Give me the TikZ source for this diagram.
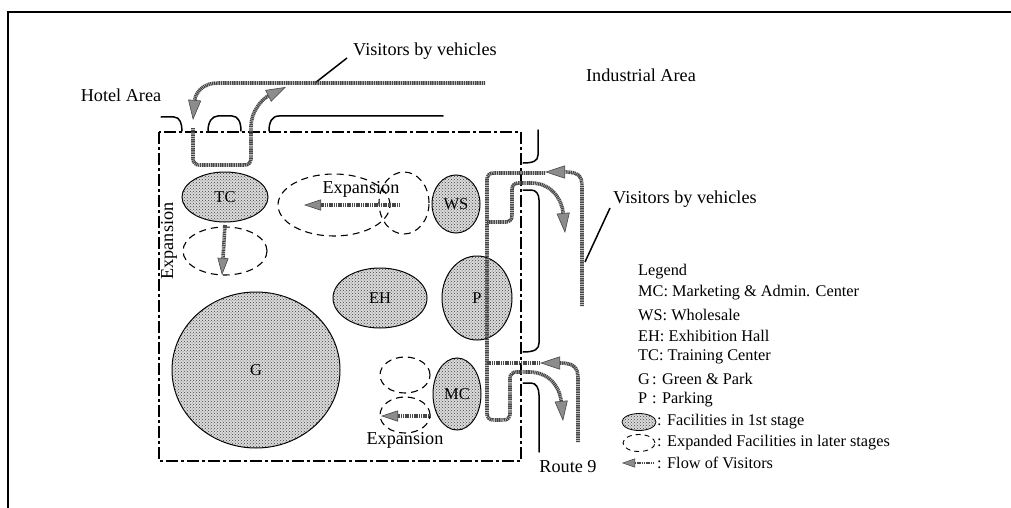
\documentclass[tikz,border=0pt]{standalone}
\usepackage{fontspec}
\setmainfont{Liberation Serif}
\usetikzlibrary{shapes.geometric,arrows.meta,patterns}
\tikzset{
  frame/.style={line width=2pt},
  boundary/.style={line width=1.4pt, dash pattern=on 12pt off 3pt on 3pt off 3pt},
  road/.style={line width=1.5pt, line cap=round},
  flow/.style={draw=black!72, line width=3.6pt, dash pattern=on 1.2pt off 0.6pt},
  fhead/.style={-{Triangle[length=20pt,width=13pt,fill=black!45,line width=0.6pt]}},
  shead/.style={-{Triangle[length=17pt,width=11pt,fill=black!45,line width=0.6pt]}},
  lhead/.style={-{Triangle[length=13pt,width=9pt,fill=black!45,line width=0.5pt]}},
  fac/.style={ellipse, draw=black, line width=1pt, fill=black!14,
    postaction={pattern=crosshatch dots, pattern color=black!75},
    inner sep=0pt, font=\fontsize{16.5}{18}\selectfont},
  exp/.style={ellipse, draw=black, line width=1.1pt, dash pattern=on 7pt off 5pt, inner sep=0pt},
  lbl/.style={inner sep=0pt, font=\fontsize{18.2}{20}\selectfont},
  leg/.style={inner sep=0pt, anchor=west, font=\fontsize{16.3}{19}\selectfont},
  leader/.style={line width=1.5pt}
}
\begin{document}
\begin{tikzpicture}[x=1pt,y=-1pt]
\useasboundingbox (0,0) rectangle (1011,508);
% outer frame (only top and left visible)
\draw[frame] (1011,12) -- (8,12) -- (8,508);

% site boundary
\draw[boundary] (159,132) rectangle (521,461);

% roads
\draw[road] (161,117) -- (174,117) .. controls (180,117) and (182,124) .. (182,131);
\draw[road] (208,131) .. controls (208,122) and (212,116) .. (218,116) -- (232,116) .. controls (238,116) and (241,122) .. (241,131);
\draw[road] (269,131) .. controls (269,122) and (272,116) .. (279,116) -- (443,116);
\draw[road] (538,130) -- (538,155) .. controls (538,161) and (533,163) .. (523,163);
\draw[road] (523,190) -- (531,190) .. controls (536,190) and (539,194) .. (539,200) -- (539,343) .. controls (539,349) and (535,352) .. (523,352);
\draw[road] (523,383) -- (531,383) .. controls (536,383) and (539,388) .. (539,395) -- (539,452);

% facilities
\node[fac, minimum width=86pt, minimum height=50pt] (tc) at (225,197) {TC};
\node[fac, minimum width=48pt, minimum height=58pt] (ws) at (456,204) {WS};
\node[fac, minimum width=94pt, minimum height=60pt] (eh) at (380,298) {EH};
\node[fac, minimum width=70pt, minimum height=84pt] (p) at (477,298) {P};
\node[fac, minimum width=168pt, minimum height=156pt] (g) at (256,370) {G};
\node[fac, minimum width=48pt, minimum height=72pt] (mc) at (457,394) {MC};

% expansions
\node[exp, minimum width=112pt, minimum height=62pt] (ex1) at (334,205) {};
\node[exp, minimum width=50pt, minimum height=62pt] (ex2) at (404,203) {};
\node[exp, minimum width=84pt, minimum height=48pt] (ex3) at (225,251) {};
\node[exp, minimum width=50pt, minimum height=36pt] (ex4) at (405,375) {};
\node[exp, minimum width=50pt, minimum height=36pt] (ex5) at (405,415) {};

% labels
\node[lbl] (hotel) at (121,95) {Hotel Area};
\node[lbl] (ind) at (641,75) {Industrial Area};
\node[lbl, anchor=west] (vis1) at (353,51) {Visitors by vehicles};
\node[lbl, anchor=west] (vis2) at (613,199) {Visitors by vehicles};
\node[lbl] (route) at (568,467) {Route 9};
\node[lbl] (exptop) at (361,189) {Expansion};
\node[lbl] (expbot) at (405,440) {Expansion};
\node[lbl, rotate=90] (expleft) at (169,241) {Expansion};

% leader lines
\coordinate (l1) at (315,83);
\coordinate (l2) at (585,262);
\draw[leader] (vis1.west) ++(-6,7) -- (l1);
\draw[leader] (vis2.west) ++(-3,9) -- (l2);

% flows of visitors
\draw[flow, fhead] (485,83) -- (218,83) .. controls (200,83) and (195,96) .. (193,120);
\draw[flow, fhead, rounded corners=6pt] (193,128) -- (193,165) -- (251,165) -- (251,132) .. controls (251,112) and (262,99) .. (286,87);
\draw[flow, fhead] (582,306) -- (582,186) .. controls (582,175) and (577,172) .. (545,172);
\draw[flow, rounded corners=6pt] (545,173) -- (487,173) -- (487,420) -- (510,420) -- (510,372) -- (530,372);
\draw[flow, fhead] (529,372) .. controls (550,372) and (560,388) .. (563,421);
\draw[flow, rounded corners=6pt] (487,222) -- (512,222) -- (512,183) -- (532,183);
\draw[flow, fhead] (531,183) .. controls (552,183) and (562,200) .. (565,233);
\draw[flow, fhead] (578,442) -- (578,378) .. controls (578,367) and (573,363) .. (540,363);
\draw[flow] (540,363) -- (487,363);
\draw[flow, shead] (400,205) -- (304,205);
\draw[flow, shead] (225,225) -- (222,275);
\draw[flow, shead] (431,416) -- (381,416);

% legend
\node[leg] (lg0) at (638,272) {Legend};
\node[leg] (lg1) at (638,293) {MC: Marketing \& Admin. Center};
\node[leg] (lg2) at (638,315) {WS: Wholesale};
\node[leg] (lg3) at (638,336) {EH: Exhibition Hall};
\node[leg] (lg4) at (638,357) {TC: Training Center};
\node[leg] (lg5) at (638,379) {\makebox[14pt][l]{G}: Green \& Park};
\node[leg] (lg6) at (638,400) {\makebox[14pt][l]{P}: Parking};
\node[fac, minimum width=34pt, minimum height=17pt, line width=0.8pt] (sym1) at (639,422) {};
\node[leg] (lg7) at (657,422) {: Facilities in 1st stage};
\node[exp, minimum width=32pt, minimum height=17pt, line width=0.9pt, dash pattern=on 5pt off 4pt] (sym2) at (639,443) {};
\node[leg] (lg8) at (657,443) {: Expanded Facilities in later stages};
\coordinate (fa) at (654,463);
\coordinate (fb) at (622,463);
\draw[flow, line width=2.6pt, lhead] (fa) -- (fb);
\node[leg] (lg9) at (657,463) {: Flow of Visitors};
\end{tikzpicture}
\end{document}
